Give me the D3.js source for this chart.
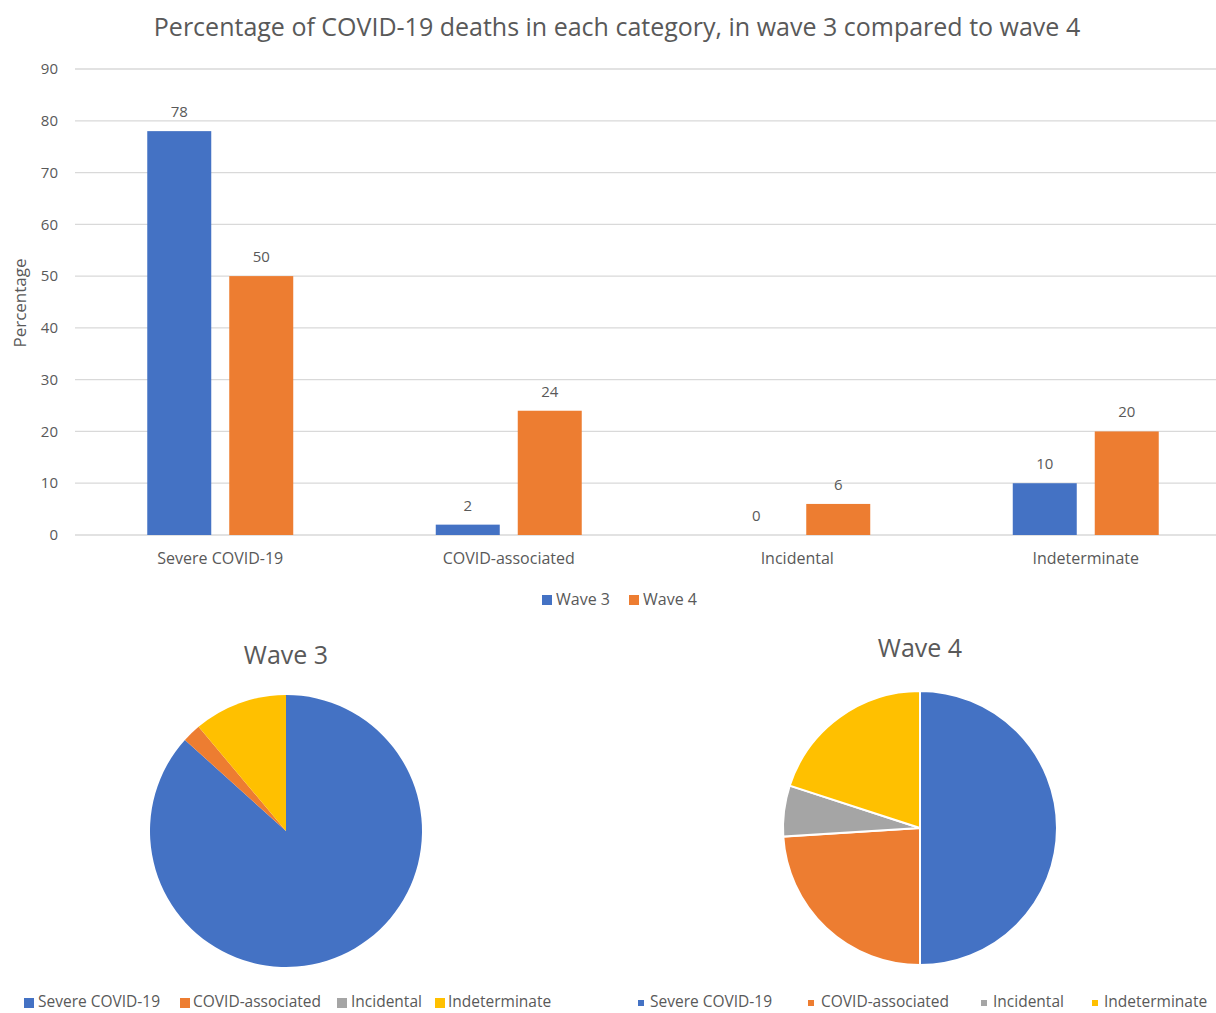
<!DOCTYPE html>
<html>
<head>
<meta charset="utf-8">
<script src="https://cdn.jsdelivr.net/npm/d3@7"></script>
<style>
  html, body { margin: 0; padding: 0; background: #fff; }
  svg { display: block; font-family: "Open Sans", "Noto Sans", sans-serif; }
</style>
</head>
<body>
<svg width="1216" height="1013"></svg>
<script>
// data
const categories = ['Severe COVID-19', 'COVID-associated', 'Incidental', 'Indeterminate'];
const seriesNames = ['Wave 3', 'Wave 4'];
const wave3 = [78, 2, 0, 10];
const wave4 = [50, 24, 6, 20];
const yTicks = [0, 10, 20, 30, 40, 50, 60, 70, 80, 90];

const barColors = ['#4472C4', '#ED7D31'];
const pieColors = ['#4472C4', '#ED7D31', '#A5A5A5', '#FFC000'];
const textColor = '#595959';

const svg = d3.select('svg');
const width = +svg.attr('width');

// ---- bar chart ----
const x0 = d3.scaleBand()
  .domain(categories)
  .range([76, 1230])
  .paddingInner(0.494)
  .paddingOuter(0.247);

const x1 = d3.scaleBand()
  .domain(seriesNames)
  .range([0, x0.bandwidth()])
  .paddingInner(0.2195);

const y = d3.scaleLinear()
  .domain([0, 90])
  .range([535, 69]);

svg.append('text')
  .attr('x', 617)
  .attr('y', 36)
  .attr('text-anchor', 'middle')
  .attr('font-size', 25)
  .attr('fill', textColor)
  .text('Percentage of COVID-19 deaths in each category, in wave 3 compared to wave 4');

// gridlines
svg.append('g')
  .selectAll('line')
  .data(yTicks)
  .join('line')
  .attr('x1', 75)
  .attr('x2', width)
  .attr('y1', d => y(d))
  .attr('y2', d => y(d))
  .attr('stroke', '#d9d9d9')
  .attr('stroke-width', 1.3);

// y axis labels
svg.append('g')
  .selectAll('text')
  .data(yTicks)
  .join('text')
  .attr('x', 58)
  .attr('y', d => y(d))
  .attr('dy', '0.35em')
  .attr('text-anchor', 'end')
  .attr('font-size', 15)
  .attr('fill', textColor)
  .text(d => d);

svg.append('text')
  .attr('transform', 'rotate(-90)')
  .attr('x', -303)
  .attr('y', 26)
  .attr('text-anchor', 'middle')
  .attr('font-size', 17)
  .attr('fill', textColor)
  .text('Percentage');

const rows = categories.map((c, i) => ({ cat: c, values: [wave3[i], wave4[i]] }));

const groups = svg.append('g')
  .selectAll('g')
  .data(rows)
  .join('g')
  .attr('transform', d => `translate(${x0(d.cat)},0)`);

groups.selectAll('rect')
  .data(d => d.values.map((v, j) => ({ name: seriesNames[j], value: v, j })))
  .join('rect')
  .attr('x', d => x1(d.name))
  .attr('width', x1.bandwidth())
  .attr('y', d => y(d.value))
  .attr('height', d => y(0) - y(d.value))
  .attr('fill', d => barColors[d.j]);

groups.selectAll('text.val')
  .data(d => d.values.map((v, j) => ({ name: seriesNames[j], value: v })))
  .join('text')
  .attr('class', 'val')
  .attr('x', d => x1(d.name) + x1.bandwidth() / 2)
  .attr('y', d => y(d.value) - 14)
  .attr('text-anchor', 'middle')
  .attr('font-size', 15)
  .attr('fill', textColor)
  .text(d => d.value);

// category labels
svg.append('g')
  .selectAll('text')
  .data(categories)
  .join('text')
  .attr('x', d => x0(d) + x0.bandwidth() / 2)
  .attr('y', 564)
  .attr('text-anchor', 'middle')
  .attr('font-size', 16)
  .attr('fill', textColor)
  .text(d => d);

// bar legend
const barLegend = svg.append('g');
const barLegendX = [542, 629];
seriesNames.forEach((s, i) => {
  barLegend.append('rect')
    .attr('x', barLegendX[i]).attr('y', 595)
    .attr('width', 10).attr('height', 10)
    .attr('fill', barColors[i]);
  barLegend.append('text')
    .attr('x', barLegendX[i] + 14).attr('y', 605)
    .attr('font-size', 16)
    .attr('fill', textColor)
    .text(s);
});

// ---- pies ----
const pie = d3.pie().sort(null).value(d => d);

function drawPie(values, title, cx, cy, r, titleY, strokeW, legendX, legendTextX, sq) {
  const arc = d3.arc().innerRadius(0).outerRadius(r);
  const g = svg.append('g').attr('transform', `translate(${cx},${cy})`);
  g.selectAll('path')
    .data(pie(values))
    .join('path')
    .attr('d', arc)
    .attr('fill', (d, i) => pieColors[i])
    .attr('stroke', strokeW ? '#fff' : 'none')
    .attr('stroke-width', strokeW);

  svg.append('text')
    .attr('x', cx)
    .attr('y', titleY)
    .attr('text-anchor', 'middle')
    .attr('font-size', 25)
    .attr('fill', textColor)
    .text(title);

  categories.forEach((c, i) => {
    svg.append('rect')
      .attr('x', legendX[i]).attr('y', 1003 - sq / 2)
      .attr('width', sq).attr('height', sq)
      .attr('fill', pieColors[i]);
    svg.append('text')
      .attr('x', legendTextX[i]).attr('y', 1007)
      .attr('font-size', 15.5)
      .attr('fill', textColor)
      .text(c);
  });
}

drawPie(wave3, 'Wave 3', 286, 831, 136, 664, 0,
  [24, 180, 337, 435], [38, 193, 351, 448], 10);
drawPie(wave4, 'Wave 4', 920, 828, 137, 657, 2,
  [638, 808, 981, 1092], [650, 821, 993, 1104], 6);
</script>
</body>
</html>
